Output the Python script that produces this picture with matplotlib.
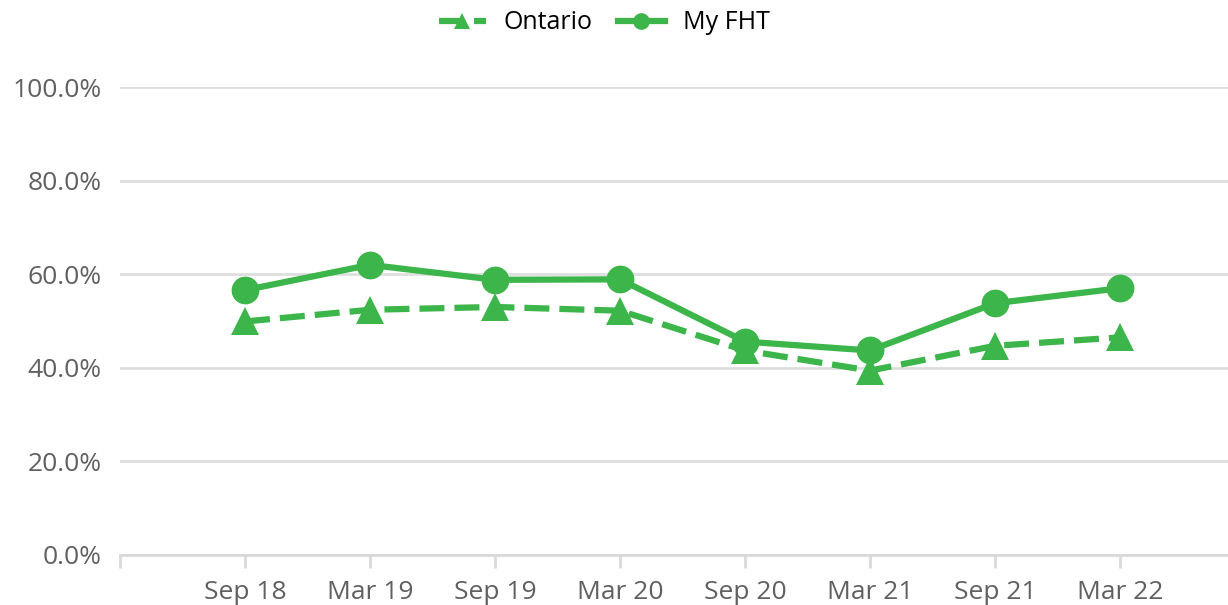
import numpy as np
import matplotlib.pyplot as plt
from matplotlib.ticker import FuncFormatter

periods = ["Sep 18", "Mar 19", "Sep 19", "Mar 20", "Sep 20", "Mar 21", "Sep 21", "Mar 22"]
ontario = [49.9, 52.4, 53.0, 52.2, 43.7, 39.4, 44.7, 46.5]
my_fht = [56.6, 62.0, 58.8, 58.9, 45.6, 43.7, 53.8, 57.0]

green = '#3cb54a'
grey = '#606060'
plt.rcParams['font.family'] = ['Open Sans', 'DejaVu Sans']

fig = plt.figure(figsize=(12.28, 6.05), dpi=100)
ax = fig.add_axes([120 / 1228, 50 / 605, 1 - 120 / 1228, 468 / 605])

x = np.arange(len(periods))
ax.plot(x, ontario, color=green, lw=4.5, ls=(0, (4, 1.6)), marker='^', ms=20,
        markeredgewidth=0, label='Ontario', zorder=3)
ax.plot(x, my_fht, color=green, lw=4.5, marker='o', ms=20,
        markeredgewidth=0, label='My FHT', zorder=4)

ax.set_xlim(-1, 7.864)
ax.set_ylim(0, 100)
ax.set_yticks(np.arange(0, 101, 20))
ax.yaxis.set_major_formatter(FuncFormatter(lambda v, p: f"{v:.1f}%"))
ax.set_xticks(np.arange(-1, len(periods)))
ax.set_xticklabels([""] + periods)

for s in ['top', 'right', 'left']:
    ax.spines[s].set_visible(False)
ax.spines['bottom'].set_color('#d9d9d9')
ax.spines['bottom'].set_linewidth(2)
ax.spines['bottom'].set_zorder(1)
ax.grid(axis='y', color='#dedede', lw=2)
ax.set_axisbelow(True)
ax.tick_params(axis='y', length=0, labelsize=19, labelcolor=grey, pad=13)
ax.tick_params(axis='x', length=9, width=2, color='#d9d9d9', labelsize=19,
               labelcolor=grey, pad=9)

leg = fig.legend(loc='upper center', bbox_to_anchor=(0.492, 1.02), ncol=2, frameon=False,
                 fontsize=18, handlelength=1.9, columnspacing=1.0, handletextpad=0.7,
                 markerscale=0.6)
for line in leg.get_lines():
    line.set_linewidth(4.5)

fig.savefig('out.png', dpi=100)
